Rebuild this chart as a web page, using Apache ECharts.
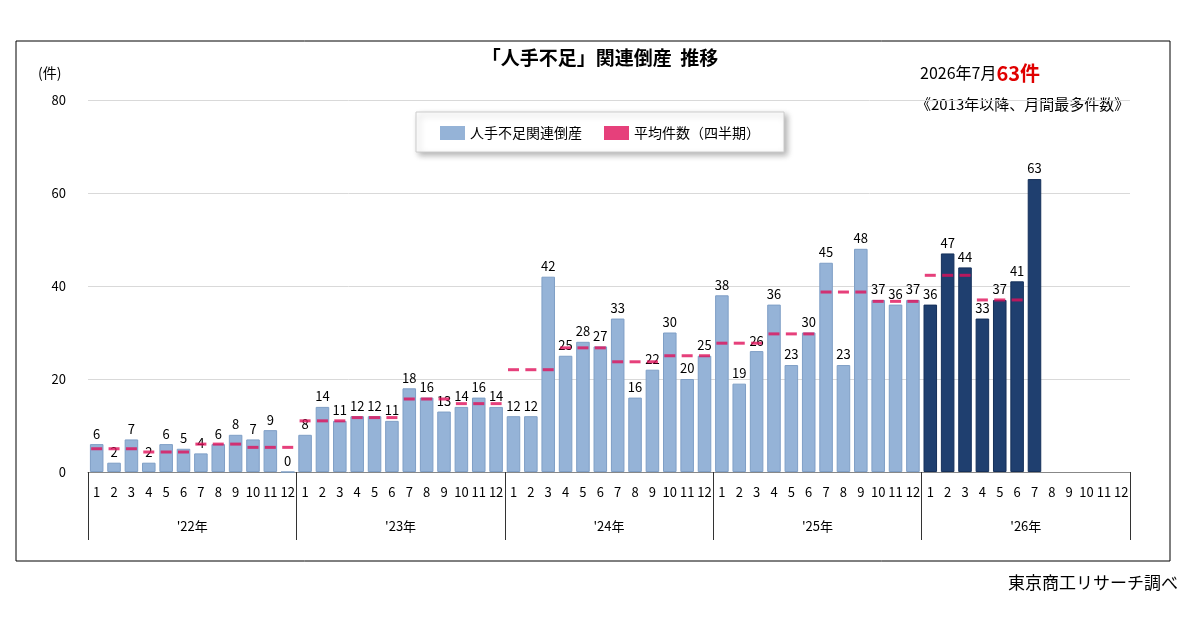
<!DOCTYPE html>
<html><head><meta charset="utf-8">
<script src="https://cdn.jsdelivr.net/npm/echarts@6/dist/echarts.min.js"></script>
<style>html,body{margin:0;background:#fff}#c{width:1200px;height:630px}</style>
</head><body><div id="c"></div>
<script>
var years = ["'22年", "'23年", "'24年", "'25年", "'26年"];
var monthLabels = ['1','2','3','4','5','6','7','8','9','10','11','12'];
var counts = [
  6,2,7,2,6,5,4,6,8,7,9,0,
  8,14,11,12,12,11,18,16,13,14,16,14,
  12,12,42,25,28,27,33,16,22,30,20,25,
  38,19,26,36,23,30,45,23,48,37,36,37,
  36,47,44,33,37,41,63,null,null,null,null,null
];
var quarterAvg = [5,4.3,6,5.3, 11,11.7,15.7,14.7, 22,26.7,23.7,25, 27.7,29.7,38.7,36.7, 42.3,37,null,null];

var cats = [], avg = [];
for (var i = 0; i < 60; i++) {
  cats.push(monthLabels[i % 12]);
  avg.push(quarterAvg[Math.floor(i / 3)]);
}
var barData = counts.map(function (v, i) {
  return {value: v, itemStyle: i >= 48
    ? {color: '#1f3f6f', borderColor: '#15305a', borderWidth: 1}
    : {color: '#95b3d7', borderColor: '#7f9fc6', borderWidth: 1}};
});

var chart = echarts.init(document.getElementById('c'));
chart.setOption({
  animation: false,
  textStyle: {fontFamily: 'Noto Sans CJK JP'},
  graphic: [
    {type: 'rect', shape: {x: 16, y: 41, width: 1154, height: 520}, style: {fill: 'none', stroke: '#000', lineWidth: 1}},
    {type: 'text', left: 'center', top: 48, style: {text: '「人手不足」関連倒産  推移', font: 'bold 19px "Noto Sans CJK JP"', fill: '#000'}},
    {type: 'text', left: 38, top: 66, style: {text: '(件)', font: '14px "Noto Sans CJK JP"', fill: '#000'}},
    {type: 'text', left: 920, top: 63, style: {
      rich: {a: {font: '16px "Noto Sans CJK JP"', fill: '#000'}, b: {font: 'bold 20px "Noto Sans CJK JP"', fill: '#e00000'}},
      text: '{a|2026年7月}{b|63件}'}},
    {type: 'text', left: 916, top: 97, style: {text: '《2013年以降、月間最多件数》', font: '15px "Noto Sans CJK JP"', fill: '#000'}},
    {type: 'rect', shape: {x: 416, y: 112, width: 368, height: 40}, style: {fill: '#fff', stroke: '#ccc', lineWidth: 1, shadowBlur: 6, shadowOffsetX: 3, shadowOffsetY: 3, shadowColor: 'rgba(0,0,0,0.3)'}},
    {type: 'text', right: 22, top: 574, style: {text: '東京商工リサーチ調べ', font: '17px "Noto Sans CJK JP"', fill: '#000'}}
  ],
  legend: {
    top: 121, left: 'center', itemGap: 22, z: 10,
    textStyle: {fontSize: 14, color: '#000'},
    data: [{name: '人手不足関連倒産', icon: 'rect', itemWidth: 8, itemHeight: 11},
           {name: '平均件数（四半期）', icon: 'rect', itemWidth: 12, itemHeight: 3}]
  },
  grid: {left: 88, right: 70, top: 100, bottom: 158},
  xAxis: [{
    type: 'category', data: cats,
    axisLine: {lineStyle: {color: '#888'}},
    axisTick: {show: false},
    axisLabel: {interval: 0, fontSize: 13, color: '#000', margin: 14}
  }, {
    type: 'category', data: years, position: 'bottom',
    axisLine: {show: false},
    axisTick: {show: true, length: 68, lineStyle: {color: '#333'}},
    axisLabel: {fontSize: 13, color: '#000', margin: 48}
  }],
  yAxis: {
    type: 'value', min: 0, max: 80, interval: 20,
    axisLine: {show: false}, axisTick: {show: false},
    axisLabel: {fontSize: 13, color: '#000', margin: 22},
    splitLine: {lineStyle: {color: '#d9d9d9'}}
  },
  series: [{
    name: '人手不足関連倒産', type: 'bar', data: barData, barCategoryGap: '22%',
    itemStyle: {color: '#95b3d7'},
    label: {show: true, position: 'top', fontSize: 13, color: '#000', distance: 4}
  }, {
    name: '平均件数（四半期）', type: 'scatter', data: avg, symbol: 'rect',
    symbolSize: [11, 3], itemStyle: {color: '#e0105a'}, z: 5
  }]
});
</script></body></html>
